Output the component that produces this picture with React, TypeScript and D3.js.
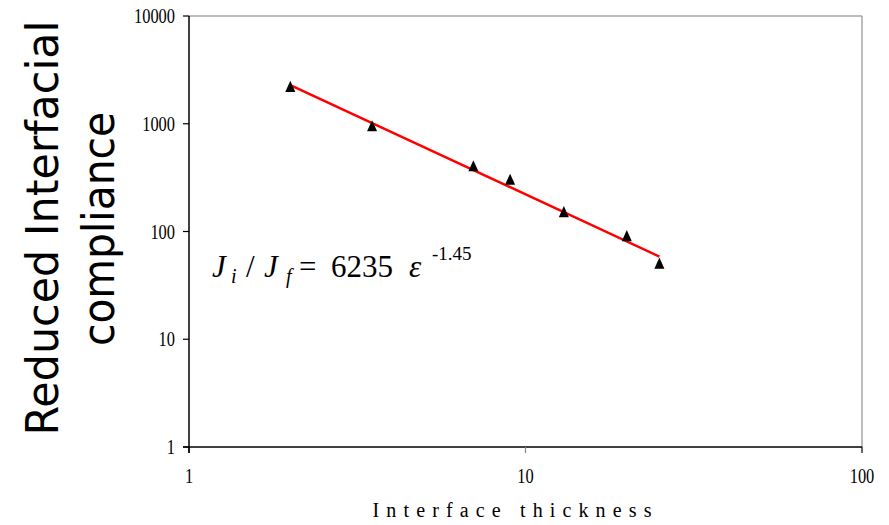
import React from "react";
import * as d3 from "d3";

const thickness = [2, 3.5, 7, 9, 13, 20, 25];
const compliance = [2180, 940, 400, 300, 150, 90, 50];
const fitCoef = 6235;
const fitExp = -1.45;
const fitRange = [2, 25];
const xTicks = [1, 10, 100];
const yTicks = [1, 10, 100, 1000, 10000];

const W = 889, H = 525;
const L = 189, R = 862, T = 16, B = 447;

const serif = "Liberation Serif";
const sans = "DejaVu Sans";

type Piece = { s: string; x: number; y: number; size: number; italic?: boolean };
const equation: Piece[] = [
  { s: "J", x: 212, y: 277, size: 31, italic: true },
  { s: "i", x: 231, y: 283, size: 20, italic: true },
  { s: "/", x: 246, y: 277, size: 31 },
  { s: "J", x: 264, y: 277, size: 31, italic: true },
  { s: "f", x: 286, y: 283, size: 20, italic: true },
  { s: "=", x: 299, y: 277, size: 31 },
  { s: "6235", x: 331, y: 277, size: 31 },
  { s: "ε", x: 409, y: 277, size: 31, italic: true },
  { s: "-1.45", x: 432, y: 260, size: 19 },
];

export default function App() {
  const x = d3.scaleLog().domain([1, 100]).range([L, R]);
  const y = d3.scaleLog().domain([1, 10000]).range([B, T]);
  const fitPts: [number, number][] = fitRange.map((v) => [v, fitCoef * Math.pow(v, fitExp)]);
  const line = d3.line<[number, number]>().x((d) => x(d[0])).y((d) => y(d[1]));
  const tri = d3.symbol().type(d3.symbolTriangle).size(72)() as string;
  return (
    <svg width={W} height={H} style={{ position: "absolute", left: 0, top: 0, background: "#fff" }}>
      <rect x={0} y={0} width={W} height={H} fill="#fff" />
      <line x1={L} y1={T} x2={R} y2={T} stroke="#a6a6a6" strokeWidth={1.5} />
      <line x1={R} y1={T} x2={R} y2={B} stroke="#a6a6a6" strokeWidth={1.5} />
      <line x1={L} y1={T} x2={L} y2={B + 6} stroke="#000" strokeWidth={1.5} />
      <line x1={L - 6} y1={B} x2={R} y2={B} stroke="#000" strokeWidth={1.5} />
      {yTicks.map((t) => (
        <g key={"y" + t}>
          <line x1={L - 6} x2={L} y1={y(t)} y2={y(t)} stroke="#000" strokeWidth={1.2} />
          <text x={175} y={y(t) + 7} textAnchor="end" fontFamily={serif} fontSize={20}
            textLength={String(t).length * 8.2} lengthAdjust="spacingAndGlyphs">{t}</text>
        </g>
      ))}
      {xTicks.map((t) => (
        <g key={"x" + t}>
          <line x1={x(t)} x2={x(t)} y1={B} y2={B + 6} stroke={t === 10 ? "#888" : "#000"} strokeWidth={1.2} />
          <text x={x(t)} y={483} textAnchor="middle" fontFamily={serif} fontSize={20}
            textLength={String(t).length * 8.2} lengthAdjust="spacingAndGlyphs">{t}</text>
        </g>
      ))}
      <text x={512} y={517} textAnchor="middle" fontFamily={serif} fontSize={20}
        textLength={279} lengthAdjust="spacing">Interface thickness</text>
      <text transform="translate(58,228) rotate(-90)" x={0} y={0} textAnchor="middle" fontFamily={sans} fontSize={45}
        textLength={415} lengthAdjust="spacingAndGlyphs">Reduced Interfacial</text>
      <text transform="translate(114,229) rotate(-90)" x={0} y={0} textAnchor="middle" fontFamily={sans} fontSize={45}
        textLength={234} lengthAdjust="spacingAndGlyphs">compliance</text>
      <path d={line(fitPts) || ""} fill="none" stroke="#ff0000" strokeWidth={2.5} />
      {thickness.map((t, i) => (
        <path key={"p" + i} d={tri} transform={`translate(${x(t)},${y(compliance[i]) + 1}) scale(0.78,1)`} fill="#000" />
      ))}
      {equation.map((p, i) => (
        <text key={"e" + i} x={p.x} y={p.y} fontFamily={serif} fontSize={p.size}
          fontStyle={p.italic ? "italic" : "normal"} fill="#000">{p.s}</text>
      ))}
    </svg>
  );
}
